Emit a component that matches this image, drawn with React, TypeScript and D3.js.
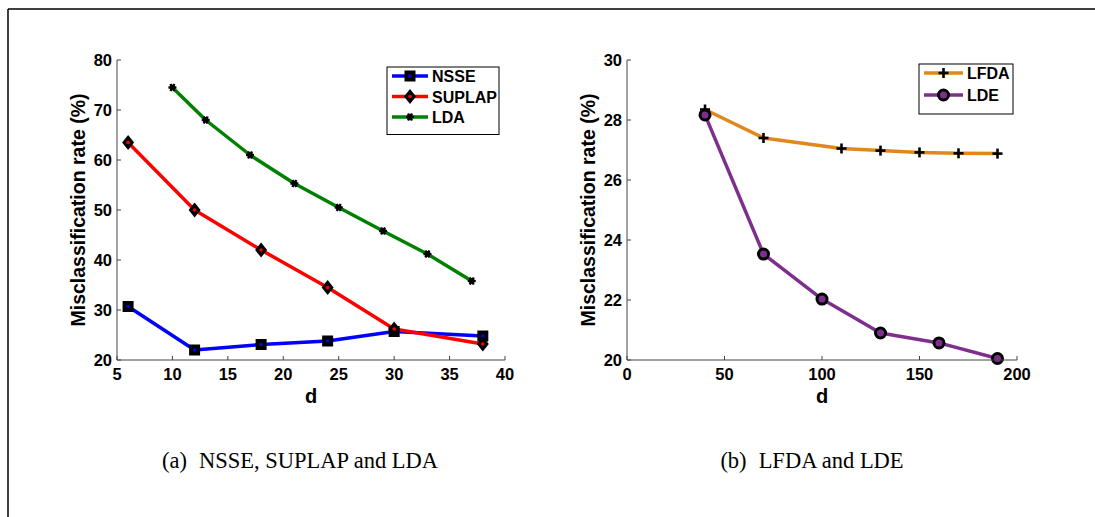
import React from "react";
import * as d3 from "d3";

// left panel data
const nsseX = [6, 12, 18, 24, 30, 38];
const nsseY = [30.7, 22, 23.1, 23.8, 25.7, 24.8];
const suplapX = [6, 12, 18, 24, 30, 38];
const suplapY = [63.5, 50, 42, 34.5, 26.2, 23.2];
const ldaX = [10, 13, 17, 21, 25, 29, 33, 37];
const ldaY = [74.5, 68, 61, 55.3, 50.5, 45.8, 41.2, 35.8];
const leftXTicks = [5, 10, 15, 20, 25, 30, 35, 40];
const leftYTicks = [20, 30, 40, 50, 60, 70, 80];

// right panel data
const lfdaX = [40, 70, 110, 130, 150, 170, 190];
const lfdaY = [28.35, 27.4, 27.05, 26.98, 26.92, 26.89, 26.88];
const ldeX = [40, 70, 100, 130, 160, 190];
const ldeY = [28.17, 23.53, 22.03, 20.9, 20.57, 20.05];
const rightXTicks = [0, 50, 100, 150, 200];
const rightYTicks = [20, 22, 24, 26, 28, 30];

const W = 1095;
const H = 517;
const axisColor = "#444";
const sans = "'Liberation Sans', Arial, sans-serif";
const serif = "'Liberation Serif', 'Times New Roman', serif";

type Marker = "square" | "diamond" | "star" | "plus" | "circle";

function MarkerShape({ kind, x, y, color }: { kind: Marker; x: number; y: number; color: string }) {
  if (kind === "square")
    return (
      <g>
        <rect x={x - 5.5} y={y - 5.5} width={11} height={11} fill="black" />
        <rect x={x - 1.5} y={y - 1.5} width={3} height={3} fill={color} />
      </g>
    );
  if (kind === "diamond")
    return (
      <g>
        <path d={`M${x},${y - 7.5}L${x + 6},${y}L${x},${y + 7.5}L${x - 6},${y}Z`} fill="black" />
        <circle cx={x} cy={y} r={1.8} fill={color} />
      </g>
    );
  if (kind === "star")
    return (
      <g stroke="black" strokeWidth={2.4}>
        <line x1={x - 4} y1={y} x2={x + 4} y2={y} />
        <line x1={x - 2} y1={y - 3.5} x2={x + 2} y2={y + 3.5} />
        <line x1={x + 2} y1={y - 3.5} x2={x - 2} y2={y + 3.5} />
        <circle cx={x} cy={y} r={2.8} fill="black" stroke="none" />
      </g>
    );
  if (kind === "plus")
    return (
      <g stroke="black" strokeWidth={2.6}>
        <line x1={x - 5} y1={y} x2={x + 5} y2={y} />
        <line x1={x} y1={y - 5} x2={x} y2={y + 5} />
      </g>
    );
  return <circle cx={x} cy={y} r={5} fill={color} stroke="black" strokeWidth={3} />;
}

type Series = { name: string; xs: number[]; ys: number[]; color: string; marker: Marker };

function Panel({
  x0, x1, y0, y1, xDomain, yDomain, xTicks, yTicks, series, legend,
}: {
  x0: number; x1: number; y0: number; y1: number;
  xDomain: [number, number]; yDomain: [number, number];
  xTicks: number[]; yTicks: number[]; series: Series[];
  legend: { x: number; y: number; w: number; lineW: number; rowH: number };
}) {
  const xs = d3.scaleLinear().domain(xDomain).range([x0, x1]);
  const ys = d3.scaleLinear().domain(yDomain).range([y1, y0]);
  const line = d3.line<[number, number]>().x((d) => xs(d[0])).y((d) => ys(d[1]));
  const legH = series.length * legend.rowH + 6;
  return (
    <g>
      {series.map((s) => (
        <path
          key={s.name}
          d={line(s.xs.map((v, i) => [v, s.ys[i]] as [number, number])) || ""}
          fill="none"
          stroke={s.color}
          strokeWidth={3.5}
          strokeLinejoin="round"
        />
      ))}
      {series.map((s) =>
        s.xs.map((v, i) => (
          <MarkerShape key={s.name + i} kind={s.marker} x={xs(v)} y={ys(s.ys[i])} color={s.color} />
        ))
      )}
      <line x1={x0} y1={y0} x2={x0} y2={y1} stroke={axisColor} strokeWidth={1} />
      <line x1={x0} y1={y1} x2={x1} y2={y1} stroke={axisColor} strokeWidth={1} />
      {xTicks.map((t) => (
        <g key={"x" + t}>
          <line x1={xs(t)} y1={y1} x2={xs(t)} y2={y1 - 4} stroke={axisColor} />
          <text x={xs(t)} y={y1 + 20} textAnchor="middle" fontFamily={sans} fontWeight="bold" fontSize={16.5}>
            {t}
          </text>
        </g>
      ))}
      {yTicks.map((t) => (
        <g key={"y" + t}>
          <line x1={x0} y1={ys(t)} x2={x0 + 4} y2={ys(t)} stroke={axisColor} />
          <text x={x0 - 5} y={ys(t) + 6} textAnchor="end" fontFamily={sans} fontWeight="bold" fontSize={16.5}>
            {t}
          </text>
        </g>
      ))}
      <text
        x={(x0 + x1) / 2}
        y={y1 + 43}
        textAnchor="middle"
        fontFamily={sans}
        fontWeight="bold"
        fontSize={20}
      >
        d
      </text>
      <text
        transform={`translate(${x0 - 32},${(y0 + y1) / 2}) rotate(-90)`}
        textAnchor="middle"
        fontFamily={sans}
        fontWeight="bold"
        fontSize={19.5}
      >
        Misclassification rate (%)
      </text>
      <rect x={legend.x} y={legend.y} width={legend.w} height={legH} fill="white" stroke="black" strokeWidth={1} />
      {series.map((s, i) => {
        const cy = legend.y + 9 + i * legend.rowH;
        const lx = legend.x + 5;
        return (
          <g key={"l" + s.name}>
            <line x1={lx} y1={cy} x2={lx + legend.lineW} y2={cy} stroke={s.color} strokeWidth={3.5} />
            <MarkerShape kind={s.marker} x={lx + legend.lineW / 2} y={cy} color={s.color} />
            <text x={lx + legend.lineW + 4} y={cy + 6} fontFamily={sans} fontWeight="bold" fontSize={16}>
              {s.name}
            </text>
          </g>
        );
      })}
    </g>
  );
}

export default function App() {
  const left: Series[] = [
    { name: "NSSE", xs: nsseX, ys: nsseY, color: "#0000ff", marker: "square" },
    { name: "SUPLAP", xs: suplapX, ys: suplapY, color: "#ff0000", marker: "diamond" },
    { name: "LDA", xs: ldaX, ys: ldaY, color: "#008000", marker: "star" },
  ];
  const right: Series[] = [
    { name: "LFDA", xs: lfdaX, ys: lfdaY, color: "#e0871d", marker: "plus" },
    { name: "LDE", xs: ldeX, ys: ldeY, color: "#7e2f8e", marker: "circle" },
  ];
  return (
    <svg width={W} height={H} style={{ position: "absolute", left: 0, top: 0, background: "white" }}>
      <rect x={0} y={0} width={W} height={H} fill="white" />
      <line x1={8} y1={9} x2={W} y2={9} stroke="black" strokeWidth={1.5} />
      <line x1={8} y1={9} x2={8} y2={H} stroke="black" strokeWidth={1.5} />
      <text x={300} y={468} textAnchor="middle" fontFamily={serif} fontSize={22.5}>
        <tspan>(a)</tspan>
        <tspan dx={12}>NSSE, SUPLAP and LDA</tspan>
      </text>
      <text x={812} y={468} textAnchor="middle" fontFamily={serif} fontSize={22.5}>
        <tspan>(b)</tspan>
        <tspan dx={12}>LFDA and LDE</tspan>
      </text>
      <Panel
        x0={117} x1={505} y0={60} y1={360}
        xDomain={[5, 40]} yDomain={[20, 80]}
        xTicks={leftXTicks} yTicks={leftYTicks}
        series={left}
        legend={{ x: 387, y: 67, w: 112, lineW: 36, rowH: 20.5 }}
      />
      <Panel
        x0={627} x1={1017} y0={60} y1={360}
        xDomain={[0, 200]} yDomain={[20, 30]}
        xTicks={rightXTicks} yTicks={rightYTicks}
        series={right}
        legend={{ x: 919, y: 64, w: 94, lineW: 39, rowH: 22 }}
      />
    </svg>
  );
}
